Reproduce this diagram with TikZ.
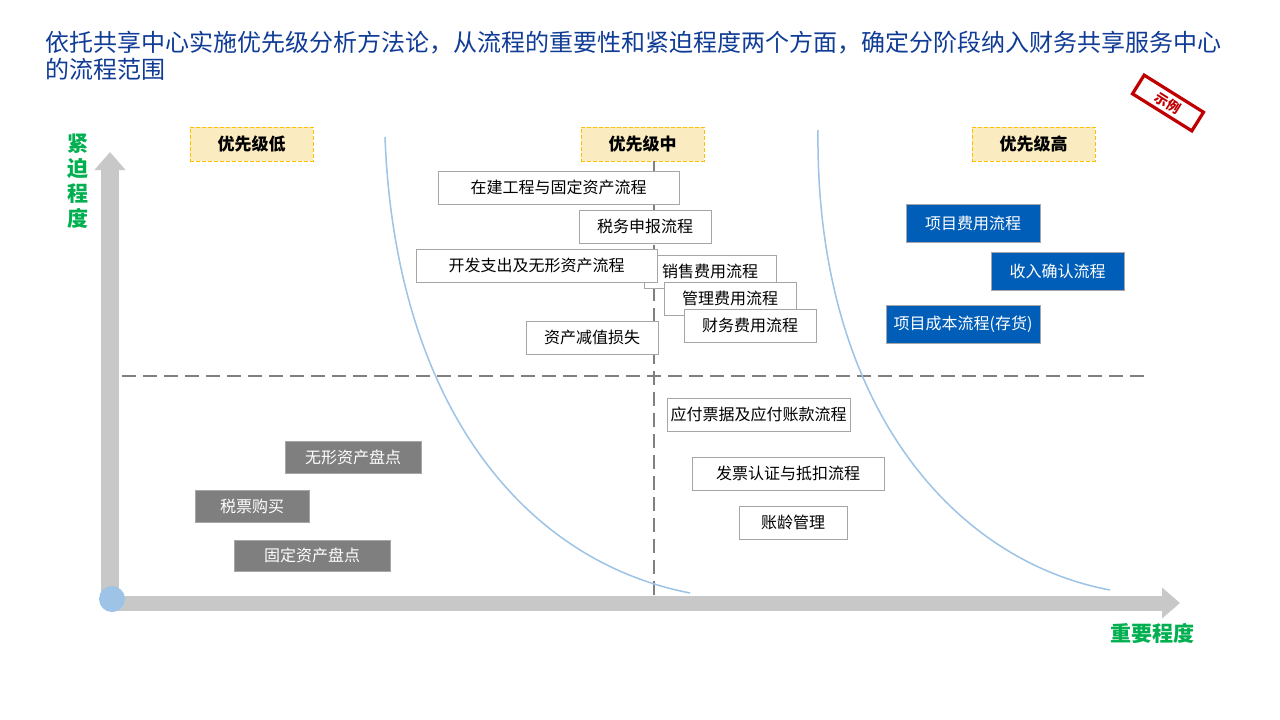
\documentclass[tikz,border=0pt]{standalone}
\usepackage{fontspec}
\setmainfont{Noto Sans CJK SC}
\usetikzlibrary{arrows.meta}

\begin{document}
\begin{tikzpicture}[x=1pt,y=-1pt,
	box/.style={draw=boxline, fill=white, line width=0.8pt, inner sep=0pt, minimum height=33, font=\fontsize{16}{16}\selectfont},
	greybox/.style={box, fill=greyfill, text=white, minimum height=32},
	bluebox/.style={box, fill=bluefill, text=white, minimum height=38},
	prio/.style={draw=prioline, line width=0.8pt, dash pattern=on 4pt off 2pt, fill=priofill, inner sep=0pt, minimum width=123, minimum height=34, font=\bfseries\fontsize{17}{17}\selectfont},
	axis/.style={draw=axisgrey, -{Triangle[length=18pt,width=30pt]}},
	curve/.style={draw=curveblue, line width=1.5pt},
	divider/.style={draw=dashgrey, line width=2pt, dash pattern=on 14pt off 7pt},
	axislabel/.style={text=axisgreen, font=\bfseries\fontsize{21}{25}\selectfont, inner sep=0pt}]
	\definecolor{titleblue}{RGB}{16,60,150}
	\definecolor{boxline}{RGB}{166,166,166}
	\definecolor{greyfill}{RGB}{127,127,127}
	\definecolor{bluefill}{RGB}{0,94,184}
	\definecolor{prioline}{RGB}{255,192,0}
	\definecolor{priofill}{RGB}{250,236,192}
	\definecolor{axisgrey}{RGB}{200,200,200}
	\definecolor{curveblue}{RGB}{157,195,230}
	\definecolor{dashgrey}{RGB}{128,128,128}
	\definecolor{axisgreen}{RGB}{0,176,80}
	\definecolor{stampred}{RGB}{192,0,0}
	\useasboundingbox[fill=white] (0,0) rectangle (1280,720);
	\node (title) at (45,31) [anchor=north west, align=left, inner sep=0pt, text=titleblue, font=\fontsize{24}{27}\selectfont] {依托共享中心实施优先级分析方法论，从流程的重要性和紧迫程度两个方面，确定分阶段纳入财务共享服务中心\\的流程范围};
	\node (stamp) at (1168,103) [rotate=-32, draw=stampred, line width=3.2pt, minimum width=70, minimum height=22, inner sep=0pt, text=stampred, font=\bfseries\fontsize{13.5}{13.5}\selectfont] {示例};
	\coordinate (o) at (110,603);
	\coordinate (ytip) at (110,152);
	\coordinate (xtip) at (1180,603);
	\draw[axis, line width=18pt] (o) -- (ytip);
	\draw[axis, line width=15pt] (o) -- (xtip);
	\node (origin) at (112,599) [circle, fill=curveblue, minimum size=26, inner sep=0pt] {};
	\node (ylabel) at (78,181) [axislabel, align=center] {紧\\迫\\程\\度};
	\node (xlabel) at (1152,633) [axislabel] {重要程度};
	\node (lowprio) at (251.5,144) [prio] {优先级低};
	\node (midprio) at (642.5,144) [prio] {优先级中};
	\node (highprio) at (1033.5,144) [prio] {优先级高};
	\coordinate (hleft) at (122,376);
	\coordinate (hright) at (1150,376);
	\coordinate (vtop) at (654,161);
	\coordinate (vbottom) at (654,597);
	\draw[divider] (hleft) -- (hright);
	\draw[divider] (vtop) -- (vbottom);
	\draw[curve] (385,137) .. controls (395,400) and (520,560) .. (690,593);
	\draw[curve] (818,130) .. controls (815,400) and (950,560) .. (1110,590);
	\node (zaijian) at (558.5,187.5) [box, minimum width=241] {在建工程与固定资产流程};
	\node (shuiwu) at (645,226.5) [box, minimum width=132] {税务申报流程};
	\node (xiaoshou) at (710,271.5) [box, minimum width=132] {销售费用流程};
	\node (kaifa) at (536.5,265.5) [box, minimum width=241] {开发支出及无形资产流程};
	\node (guanli) at (730,298.5) [box, minimum width=132] {管理费用流程};
	\node (caiwu) at (750,325.5) [box, minimum width=132] {财务费用流程};
	\node (jianzhi) at (592,337.5) [box, minimum width=132] {资产减值损失};
	\node (yingfu) at (758.5,414.5) [box, minimum width=183] {应付票据及应付账款流程};
	\node (fapiao) at (788,473.5) [box, minimum width=192] {发票认证与抵扣流程};
	\node (zhangling) at (793,522.5) [box, minimum width=108] {账龄管理};
	\node (xmfy) at (973,223) [bluebox, minimum width=134] {项目费用流程};
	\node (srqr) at (1057.5,271) [bluebox, minimum width=133] {收入确认流程};
	\node (xmcb) at (963,324) [bluebox, minimum width=154] {项目成本流程(存货)};
	\node (wxpd) at (353,457) [greybox, minimum width=136] {无形资产盘点};
	\node (spgm) at (252,506) [greybox, minimum width=114] {税票购买};
	\node (gdpd) at (312,555.5) [greybox, minimum width=156, minimum height=31] {固定资产盘点};
\end{tikzpicture}
\end{document}
